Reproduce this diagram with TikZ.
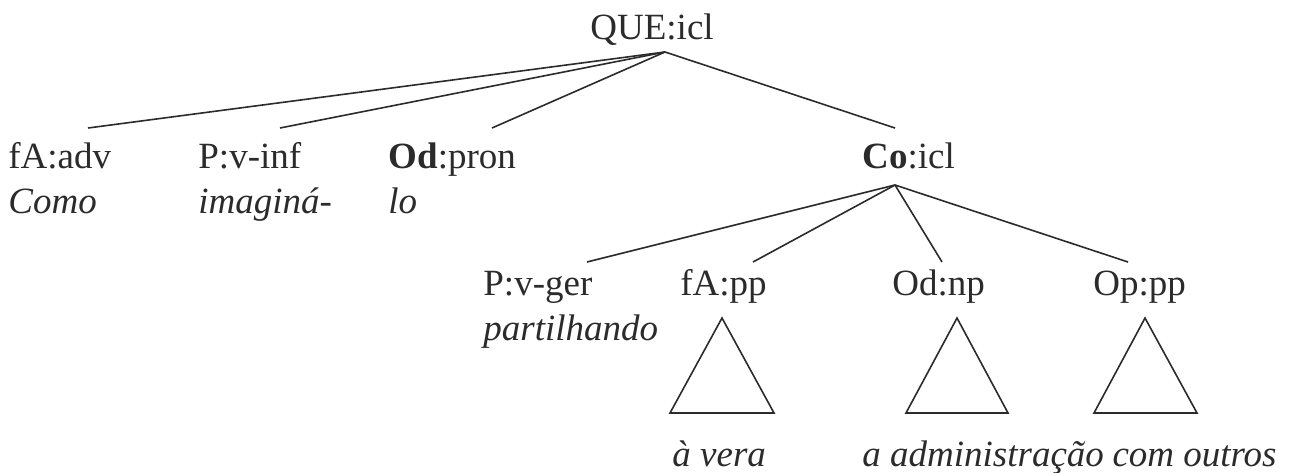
\documentclass[tikz,border=0pt]{standalone}
\usepackage{fontspec}
\setmainfont{Liberation Serif}
\usetikzlibrary{positioning}
\definecolor{ink}{HTML}{2B2B2B}

\begin{document}
\begin{tikzpicture}[x=0.5pt,y=-0.5pt,
 cat/.style={inner sep=0pt,anchor=base west,text=ink,
 font=\fontsize{18.5}{22.5}\selectfont},
 word/.style={cat,font=\fontsize{18.5}{22.5}\selectfont\itshape},
 edge/.style={draw=ink,line width=0.8pt},
 node distance=22.5pt]
\useasboundingbox (0,0) rectangle (1289,472);
% top clause
\node[cat] (que) at (590,39) {QUE:icl};
\coordinate (queapex) at ([xshift=37.5pt,yshift=-6.5pt]que.base west);
% first level
\node[cat] (fa) at (8,168) {fA:adv};
\node[word,below=of fa.base west,anchor=base west] (como) {Como};
\node[cat] (pv) at (198,168) {P:v-inf};
\node[word,below=of pv.base west,anchor=base west] (imag) {imaginá-};
\node[cat] (od) at (388,168) {\textbf{Od}:pron};
\node[word,below=of od.base west,anchor=base west] (lo) {lo};
\node[cat] (co) at (862,168) {\textbf{Co}:icl};
\coordinate (coapex) at ([xshift=16.5pt,yshift=-8.5pt]co.base west);
% second level
\node[cat] (pg) at (483,295) {P:v-ger};
\node[word,below=of pg.base west,anchor=base west] (part) {partilhando};
\node[cat] (fapp) at (680,295) {fA:pp};
\node[cat] (odnp) at (892,295) {Od:np};
\node[cat] (oppp) at (1093,295) {Op:pp};
% leaves under the roofs
\node[word] (avera) at (672,466) {à vera};
\node[word] (adm) at (862,466) {a administração};
\node[word,anchor=base east] (outros) at (1277,466) {com outros};

\draw[edge] (queapex) -- ([xshift=40pt,yshift=20pt]fa.base west);
\draw[edge] (queapex) -- ([xshift=41pt,yshift=20pt]pv.base west);
\draw[edge] (queapex) -- ([xshift=52pt,yshift=20pt]od.base west);
\draw[edge] (queapex) -- ([xshift=16.5pt,yshift=20pt]co.base west);
\draw[edge] (coapex) -- ([xshift=52pt,yshift=16.5pt]pg.base west);
\draw[edge] (coapex) -- ([xshift=36.5pt,yshift=16.5pt]fapp.base west);
\draw[edge] (coapex) -- ([xshift=25pt,yshift=16.5pt]odnp.base west);
\draw[edge] (coapex) -- ([xshift=17.5pt,yshift=16.5pt]oppp.base west);
% roofs
\draw[edge] (722,318) -- ++(-52,95) -- ++(104,0) -- cycle;
\draw[edge] (957,318) -- ++(-51,95) -- ++(102,0) -- cycle;
\draw[edge] (1145,318) -- ++(-51,95) -- ++(103,0) -- cycle;
\end{tikzpicture}
\end{document}
